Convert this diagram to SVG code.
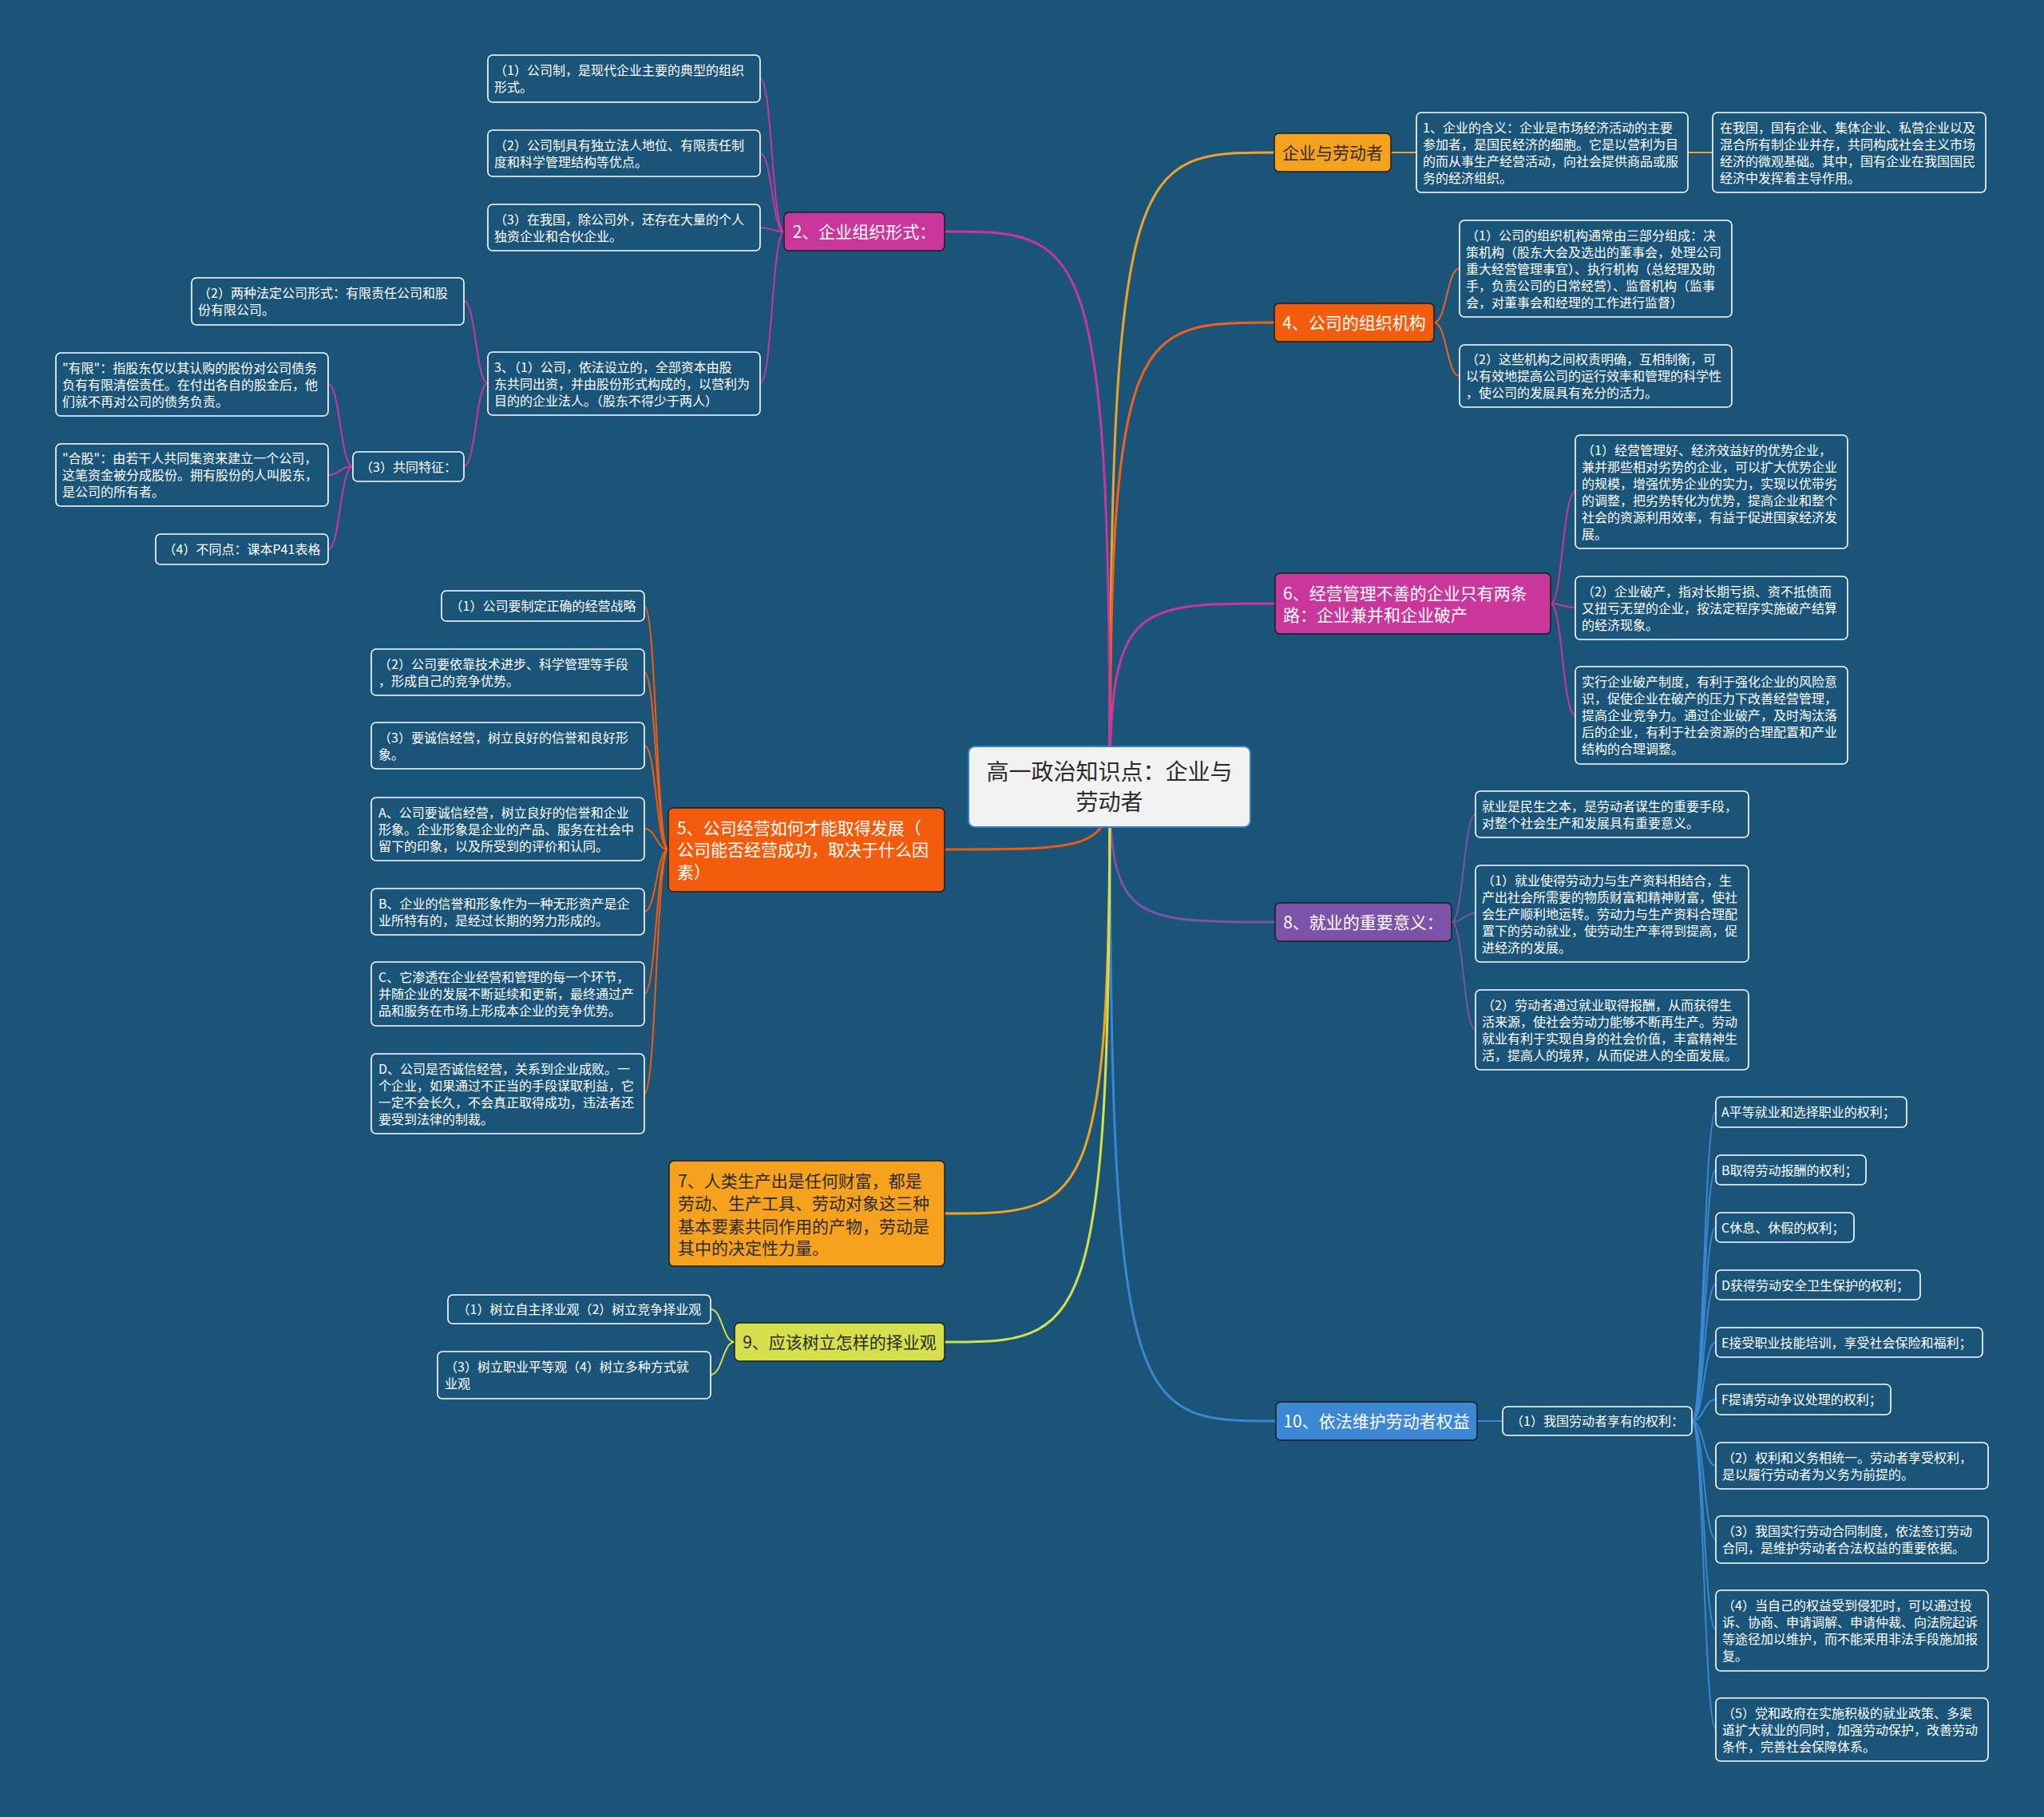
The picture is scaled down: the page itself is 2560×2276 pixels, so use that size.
<svg xmlns="http://www.w3.org/2000/svg" width="2560" height="2276" viewBox="0 0 2560 2276">
<style>
text{font-family:"Noto Sans CJK SC","Noto Sans",sans-serif;}
.s{font-size:16px;fill:#ffffff;}
.b{font-size:21px;fill:#ffffff;}
.bd{font-size:21px;fill:#2b2b2b;}
.c{text-anchor:middle;}
.sub{fill:#1a5479;stroke:#ffffff;stroke-width:1.6;}
.nd{stroke:#1d1d1d;stroke-width:1.5;}
.ln{fill:none;stroke-width:3;stroke-linecap:round;}
.sl{fill:none;stroke-width:2;stroke-linecap:round;}
</style>
<rect x="0" y="0" width="2560" height="2276" fill="#1a5479"/>
<g id="connectors">
<path class="ln" stroke="#f0a22a" d="M1390,985 C1390,191 1421,191 1596,191"/>
<path class="ln" stroke="#f0621c" d="M1390,985 C1390,404 1421,404 1596,404"/>
<path class="ln" stroke="#c9379d" d="M1390,985 C1390,756 1421,756 1597,756"/>
<path class="ln" stroke="#7d52a9" d="M1390,985 C1390,1155 1421,1155 1597,1155"/>
<path class="ln" stroke="#3b87d4" d="M1390,985 C1390,1780 1421,1780 1598,1780"/>
<path class="ln" stroke="#c9379d" d="M1390,985 C1390,290 1359,290 1183,290"/>
<path class="ln" stroke="#f25c0c" d="M1390,985 C1390,1064 1359,1064 1183,1064"/>
<path class="ln" stroke="#f6a21e" d="M1390,985 C1390,1520 1359,1520 1183,1520"/>
<path class="ln" stroke="#d6e04c" d="M1390,985 C1390,1681 1359,1681 1183,1681"/>
<path class="sl" stroke="#f0a22a" d="M1742,191 L1774,191 M2114,191 L2145,191"/>
<path class="sl" stroke="#f0621c" d="M1796,404 C1812,404 1812,336 1828,336 M1796,404 C1812,404 1812,471 1828,471"/>
<path class="sl" stroke="#c9379d" d="M1942,756 C1957,756 1957,616 1973,616 M1942,756 C1957,756 1957,761 1973,761 M1942,756 C1957,756 1957,896 1973,896"/>
<path class="sl" stroke="#7d52a9" d="M1818,1155 C1833,1155 1833,1020 1848,1020 M1818,1155 C1833,1155 1833,1144 1848,1144 M1818,1155 C1833,1155 1833,1290 1848,1290"/>
<path class="sl" stroke="#3b87d4" d="M1850,1780 L1882,1780"/>
<path class="sl" stroke="#3b87d4" d="M2119,1780 C2134,1780 2134,1393 2149,1393 M2119,1780 C2134,1780 2134,1465 2149,1465 M2119,1780 C2134,1780 2134,1537 2149,1537 M2119,1780 C2134,1780 2134,1609 2149,1609 M2119,1780 C2134,1780 2134,1681 2149,1681 M2119,1780 C2134,1780 2134,1753 2149,1753 M2119,1780 C2134,1780 2134,1836 2149,1836 M2119,1780 C2134,1780 2134,1928 2149,1928 M2119,1780 C2134,1780 2134,2042 2149,2042 M2119,1780 C2134,1780 2134,2166 2149,2166"/>
<path class="sl" stroke="#c9379d" d="M982,290 C967,290 967,98 952,98 M982,290 C967,290 967,192 952,192 M982,290 C967,290 967,285 952,285 M982,290 C967,290 967,480 952,480"/>
<path class="sl" stroke="#c9379d" d="M611,480 C596,480 596,377 581,377 M611,480 C596,480 596,584 581,584"/>
<path class="sl" stroke="#c9379d" d="M442,584 C426,584 426,481 411,481 M442,584 C426,584 426,595 411,595 M442,584 C426,584 426,688 411,688"/>
<path class="sl" stroke="#f25c0c" d="M837,1064 C822,1064 822,759 807,759 M837,1064 C822,1064 822,842 807,842 M837,1064 C822,1064 822,934 807,934 M837,1064 C822,1064 822,1038 807,1038 M837,1064 C822,1064 822,1142 807,1142 M837,1064 C822,1064 822,1245 807,1245 M837,1064 C822,1064 822,1370 807,1370"/>
<path class="sl" stroke="#d6e04c" d="M920,1681 C905,1681 905,1640 890,1640 M920,1681 C905,1681 905,1722 890,1722"/>
</g>
<g id="root">
<rect x="1213" y="935" width="353" height="101" rx="8" fill="#f2f2f2" stroke="#3a7ec8" stroke-width="2"/>
<text x="1389.5" y="977" font-size="28" fill="#2b2b2b" class="c">高一政治知识点：企业与</text>
<text x="1389.5" y="1015" font-size="28" fill="#2b2b2b" class="c">劳动者</text>
</g>
<g id="n-qiye">
<rect class="nd" x="1596" y="167" width="146" height="48" rx="6" fill="#f6a21e"/>
<text class="bd c" x="1669" y="198.5">企业与劳动者</text>
</g>
<g id="n-qiye-1">
<rect class="sub" x="1774" y="141" width="340" height="100" rx="6"/>
<text class="s" x="1782"><tspan x="1782" y="165.5">1、企业的含义：企业是市场经济活动的主要</tspan><tspan x="1782" y="186.5">参加者，是国民经济的细胞。它是以营利为目</tspan><tspan x="1782" y="207.5">的而从事生产经营活动，向社会提供商品或服</tspan><tspan x="1782" y="228.5">务的经济组织。</tspan></text>
</g>
<g id="n-qiye-2">
<rect class="sub" x="2145" y="141" width="342" height="100" rx="6"/>
<text class="s"><tspan x="2154" y="165.5">在我国，国有企业、集体企业、私营企业以及</tspan><tspan x="2154" y="186.5">混合所有制企业并存，共同构成社会主义市场</tspan><tspan x="2154" y="207.5">经济的微观基础。其中，国有企业在我国国民</tspan><tspan x="2154" y="228.5">经济中发挥着主导作用。</tspan></text>
</g>
<g id="n4">
<rect class="nd" x="1596" y="380" width="200" height="48" rx="6" fill="#f25c0c"/>
<text class="b c" x="1696" y="411.5">4、公司的组织机构</text>
</g>
<g id="n4-1">
<rect class="sub" x="1828" y="276" width="341" height="121" rx="6"/>
<text class="s"><tspan x="1836" y="300.5">（1）公司的组织机构通常由三部分组成：决</tspan><tspan x="1836" y="321.5">策机构（股东大会及选出的董事会，处理公司</tspan><tspan x="1836" y="342.5">重大经营管理事宜）、执行机构（总经理及助</tspan><tspan x="1836" y="363.5">手，负责公司的日常经营）、监督机构（监事</tspan><tspan x="1836" y="384.5">会，对董事会和经理的工作进行监督）</tspan></text>
</g>
<g id="n4-2">
<rect class="sub" x="1828" y="432" width="341" height="78" rx="6"/>
<text class="s"><tspan x="1836" y="456">（2）这些机构之间权责明确，互相制衡，可</tspan><tspan x="1836" y="477">以有效地提高公司的运行效率和管理的科学性</tspan><tspan x="1836" y="498">，使公司的发展具有充分的活力。</tspan></text>
</g>
<g id="n6">
<rect class="nd" x="1597" y="718" width="345" height="76" rx="6" fill="#c9379d"/>
<text class="b"><tspan x="1607" y="750.5">6、经营管理不善的企业只有两条</tspan><tspan x="1607" y="777.5">路：企业兼并和企业破产</tspan></text>
</g>
<g id="n6-1">
<rect class="sub" x="1973" y="545" width="341" height="142" rx="6"/>
<text class="s"><tspan x="1981" y="569.5">（1）经营管理好、经济效益好的优势企业，</tspan><tspan x="1981" y="590.5">兼并那些相对劣势的企业，可以扩大优势企业</tspan><tspan x="1981" y="611.5">的规模，增强优势企业的实力，实现以优带劣</tspan><tspan x="1981" y="632.5">的调整，把劣势转化为优势，提高企业和整个</tspan><tspan x="1981" y="653.5">社会的资源利用效率，有益于促进国家经济发</tspan><tspan x="1981" y="674.5">展。</tspan></text>
</g>
<g id="n6-2">
<rect class="sub" x="1973" y="722" width="341" height="79" rx="6"/>
<text class="s"><tspan x="1981" y="746.5">（2）企业破产，指对长期亏损、资不抵债而</tspan><tspan x="1981" y="767.5">又扭亏无望的企业，按法定程序实施破产结算</tspan><tspan x="1981" y="788.5">的经济现象。</tspan></text>
</g>
<g id="n6-3">
<rect class="sub" x="1973" y="835" width="341" height="122" rx="6"/>
<text class="s"><tspan x="1981" y="860">实行企业破产制度，有利于强化企业的风险意</tspan><tspan x="1981" y="881">识，促使企业在破产的压力下改善经营管理，</tspan><tspan x="1981" y="902">提高企业竞争力。通过企业破产，及时淘汰落</tspan><tspan x="1981" y="923">后的企业，有利于社会资源的合理配置和产业</tspan><tspan x="1981" y="944">结构的合理调整。</tspan></text>
</g>
<g id="n8">
<rect class="nd" x="1597" y="1131" width="221" height="48" rx="6" fill="#7d52a9"/>
<text class="b c" x="1707.5" y="1162.5">8、就业的重要意义：</text>
</g>
<g id="n8-1">
<rect class="sub" x="1848" y="991" width="342" height="58" rx="6"/>
<text class="s"><tspan x="1856" y="1015.5">就业是民生之本，是劳动者谋生的重要手段，</tspan><tspan x="1856" y="1036.5">对整个社会生产和发展具有重要意义。</tspan></text>
</g>
<g id="n8-2">
<rect class="sub" x="1848" y="1084" width="342" height="121" rx="6"/>
<text class="s"><tspan x="1856" y="1108.5">（1）就业使得劳动力与生产资料相结合，生</tspan><tspan x="1856" y="1129.5">产出社会所需要的物质财富和精神财富，使社</tspan><tspan x="1856" y="1150.5">会生产顺利地运转。劳动力与生产资料合理配</tspan><tspan x="1856" y="1171.5">置下的劳动就业，使劳动生产率得到提高，促</tspan><tspan x="1856" y="1192.5">进经济的发展。</tspan></text>
</g>
<g id="n8-3">
<rect class="sub" x="1848" y="1240" width="342" height="100" rx="6"/>
<text class="s"><tspan x="1856" y="1264.5">（2）劳动者通过就业取得报酬，从而获得生</tspan><tspan x="1856" y="1285.5">活来源，使社会劳动力能够不断再生产。劳动</tspan><tspan x="1856" y="1306.5">就业有利于实现自身的社会价值，丰富精神生</tspan><tspan x="1856" y="1327.5">活，提高人的境界，从而促进人的全面发展。</tspan></text>
</g>
<g id="n10">
<rect class="nd" x="1598" y="1756" width="252" height="48" rx="6" fill="#3b87d4"/>
<text class="b c" x="1724" y="1787.5">10、依法维护劳动者权益</text>
</g>
<g id="n10-1">
<rect class="sub" x="1882" y="1762" width="237" height="36" rx="6"/>
<text class="s c" x="2000.5" y="1786">（1）我国劳动者享有的权利：</text>
</g>
<g id="n10-a">
<rect class="sub" x="2149" y="1374" width="239" height="38" rx="6"/>
<text class="s" x="2156" y="1399">A平等就业和选择职业的权利；</text>
</g>
<g id="n10-b">
<rect class="sub" x="2149" y="1447" width="188" height="37" rx="6"/>
<text class="s" x="2156" y="1471.5">B取得劳动报酬的权利；</text>
</g>
<g id="n10-c">
<rect class="sub" x="2149" y="1519" width="173" height="37" rx="6"/>
<text class="s" x="2156" y="1543.5">C休息、休假的权利；</text>
</g>
<g id="n10-d">
<rect class="sub" x="2149" y="1591" width="256" height="37" rx="6"/>
<text class="s" x="2156" y="1615.5">D获得劳动安全卫生保护的权利；</text>
</g>
<g id="n10-e">
<rect class="sub" x="2149" y="1663" width="334" height="37" rx="6"/>
<text class="s" x="2156" y="1687.5">E接受职业技能培训，享受社会保险和福利；</text>
</g>
<g id="n10-f">
<rect class="sub" x="2149" y="1734" width="219" height="38" rx="6"/>
<text class="s" x="2156" y="1759">F提请劳动争议处理的权利；</text>
</g>
<g id="n10-2">
<rect class="sub" x="2149" y="1807" width="341" height="58" rx="6"/>
<text class="s"><tspan x="2157" y="1831.5">（2）权利和义务相统一。劳动者享受权利，</tspan><tspan x="2157" y="1852.5">是以履行劳动者为义务为前提的。</tspan></text>
</g>
<g id="n10-3">
<rect class="sub" x="2149" y="1899" width="341" height="59" rx="6"/>
<text class="s"><tspan x="2157" y="1924">（3）我国实行劳动合同制度，依法签订劳动</tspan><tspan x="2157" y="1945">合同，是维护劳动者合法权益的重要依据。</tspan></text>
</g>
<g id="n10-4">
<rect class="sub" x="2149" y="1992" width="341" height="101" rx="6"/>
<text class="s"><tspan x="2157" y="2017">（4）当自己的权益受到侵犯时，可以通过投</tspan><tspan x="2157" y="2038">诉、协商、申请调解、申请仲裁、向法院起诉</tspan><tspan x="2157" y="2059">等途径加以维护，而不能采用非法手段施加报</tspan><tspan x="2157" y="2080">复。</tspan></text>
</g>
<g id="n10-5">
<rect class="sub" x="2149" y="2127" width="341" height="79" rx="6"/>
<text class="s"><tspan x="2157" y="2151.5">（5）党和政府在实施积极的就业政策、多渠</tspan><tspan x="2157" y="2172.5">道扩大就业的同时，加强劳动保护，改善劳动</tspan><tspan x="2157" y="2193.5">条件，完善社会保障体系。</tspan></text>
</g>
<g id="n2">
<rect class="nd" x="982" y="266" width="201" height="48" rx="6" fill="#c9379d"/>
<text class="b c" x="1082.5" y="297.5">2、企业组织形式：</text>
</g>
<g id="n2-1">
<rect class="sub" x="611" y="69" width="341" height="59" rx="6"/>
<text class="s"><tspan x="619" y="94">（1）公司制，是现代企业主要的典型的组织</tspan><tspan x="619" y="115">形式。</tspan></text>
</g>
<g id="n2-2">
<rect class="sub" x="611" y="163" width="341" height="58" rx="6"/>
<text class="s"><tspan x="619" y="187.5">（2）公司制具有独立法人地位、有限责任制</tspan><tspan x="619" y="208.5">度和科学管理结构等优点。</tspan></text>
</g>
<g id="n2-3">
<rect class="sub" x="611" y="256" width="341" height="58" rx="6"/>
<text class="s"><tspan x="619" y="280.5">（3）在我国，除公司外，还存在大量的个人</tspan><tspan x="619" y="301.5">独资企业和合伙企业。</tspan></text>
</g>
<g id="n2-4">
<rect class="sub" x="611" y="441" width="341" height="79" rx="6"/>
<text class="s"><tspan x="619" y="465.5">3、（1）公司，依法设立的，全部资本由股</tspan><tspan x="619" y="486.5">东共同出资，并由股份形式构成的，以营利为</tspan><tspan x="619" y="507.5">目的的企业法人。（股东不得少于两人）</tspan></text>
</g>
<g id="n2-4-a">
<rect class="sub" x="240" y="348" width="341" height="59" rx="6"/>
<text class="s"><tspan x="248" y="373">（2）两种法定公司形式：有限责任公司和股</tspan><tspan x="248" y="394">份有限公司。</tspan></text>
</g>
<g id="n2-4-b">
<rect class="sub" x="442" y="566" width="139" height="37" rx="6"/>
<text class="s c" x="511.5" y="590.5">（3）共同特征：</text>
</g>
<g id="n2-4-b-1">
<rect class="sub" x="70" y="442" width="341" height="79" rx="6"/>
<text class="s"><tspan x="78" y="466.5">"有限"：指股东仅以其认购的股份对公司债务</tspan><tspan x="78" y="487.5">负有有限清偿责任。在付出各自的股金后，他</tspan><tspan x="78" y="508.5">们就不再对公司的债务负责。</tspan></text>
</g>
<g id="n2-4-b-2">
<rect class="sub" x="70" y="556" width="341" height="78" rx="6"/>
<text class="s"><tspan x="78" y="580">"合股"：由若干人共同集资来建立一个公司，</tspan><tspan x="78" y="601">这笔资金被分成股份。拥有股份的人叫股东，</tspan><tspan x="78" y="622">是公司的所有者。</tspan></text>
</g>
<g id="n2-4-b-3">
<rect class="sub" x="195" y="669" width="216" height="38" rx="6"/>
<text class="s c" x="303" y="694">（4）不同点：课本P41表格</text>
</g>
<g id="n5">
<rect class="nd" x="837" y="1012" width="346" height="105" rx="6" fill="#f25c0c"/>
<text class="b"><tspan x="848" y="1044.5">5、公司经营如何才能取得发展（</tspan><tspan x="848" y="1072">公司能否经营成功，取决于什么因</tspan><tspan x="848" y="1099.5">素）</tspan></text>
</g>
<g id="n5-1">
<rect class="sub" x="553" y="740" width="254" height="38" rx="6"/>
<text class="s c" x="680" y="765">（1）公司要制定正确的经营战略</text>
</g>
<g id="n5-2">
<rect class="sub" x="465" y="813" width="342" height="58" rx="6"/>
<text class="s"><tspan x="474" y="837.5">（2）公司要依靠技术进步、科学管理等手段</tspan><tspan x="474" y="858.5">，形成自己的竞争优势。</tspan></text>
</g>
<g id="n5-3">
<rect class="sub" x="465" y="905" width="342" height="58" rx="6"/>
<text class="s"><tspan x="474" y="929.5">（3）要诚信经营，树立良好的信誉和良好形</tspan><tspan x="474" y="950.5">象。</tspan></text>
</g>
<g id="n5-a">
<rect class="sub" x="465" y="999" width="342" height="79" rx="6"/>
<text class="s"><tspan x="474" y="1023.5">A、公司要诚信经营，树立良好的信誉和企业</tspan><tspan x="474" y="1044.5">形象。企业形象是企业的产品、服务在社会中</tspan><tspan x="474" y="1065.5">留下的印象，以及所受到的评价和认同。</tspan></text>
</g>
<g id="n5-b">
<rect class="sub" x="465" y="1113" width="342" height="58" rx="6"/>
<text class="s"><tspan x="474" y="1137.5">B、企业的信誉和形象作为一种无形资产是企</tspan><tspan x="474" y="1158.5">业所特有的，是经过长期的努力形成的。</tspan></text>
</g>
<g id="n5-c">
<rect class="sub" x="465" y="1205" width="342" height="80" rx="6"/>
<text class="s"><tspan x="474" y="1230">C、它渗透在企业经营和管理的每一个环节，</tspan><tspan x="474" y="1251">并随企业的发展不断延续和更新，最终通过产</tspan><tspan x="474" y="1272">品和服务在市场上形成本企业的竞争优势。</tspan></text>
</g>
<g id="n5-d">
<rect class="sub" x="465" y="1320" width="342" height="100" rx="6"/>
<text class="s"><tspan x="474" y="1344.5">D、公司是否诚信经营，关系到企业成败。一</tspan><tspan x="474" y="1365.5">个企业，如果通过不正当的手段谋取利益，它</tspan><tspan x="474" y="1386.5">一定不会长久，不会真正取得成功，违法者还</tspan><tspan x="474" y="1407.5">要受到法律的制裁。</tspan></text>
</g>
<g id="n7">
<rect class="nd" x="838" y="1454" width="345" height="132" rx="6" fill="#f6a21e"/>
<text class="bd"><tspan x="849" y="1486.5">7、人类生产出是任何财富，都是</tspan><tspan x="849" y="1515">劳动、生产工具、劳动对象这三种</tspan><tspan x="849" y="1543.5">基本要素共同作用的产物，劳动是</tspan><tspan x="849" y="1571">其中的决定性力量。</tspan></text>
</g>
<g id="n9">
<rect class="nd" x="920" y="1657" width="263" height="48" rx="6" fill="#d6e04c"/>
<text class="bd c" x="1051.5" y="1688.5">9、应该树立怎样的择业观</text>
</g>
<g id="n9-1">
<rect class="sub" x="561" y="1622" width="329" height="36" rx="6"/>
<text class="s c" x="725.5" y="1646">（1）树立自主择业观（2）树立竞争择业观</text>
</g>
<g id="n9-2">
<rect class="sub" x="548" y="1693" width="342" height="59" rx="6"/>
<text class="s"><tspan x="557" y="1718">（3）树立职业平等观（4）树立多种方式就</tspan><tspan x="557" y="1739">业观</tspan></text>
</g>
</svg>
